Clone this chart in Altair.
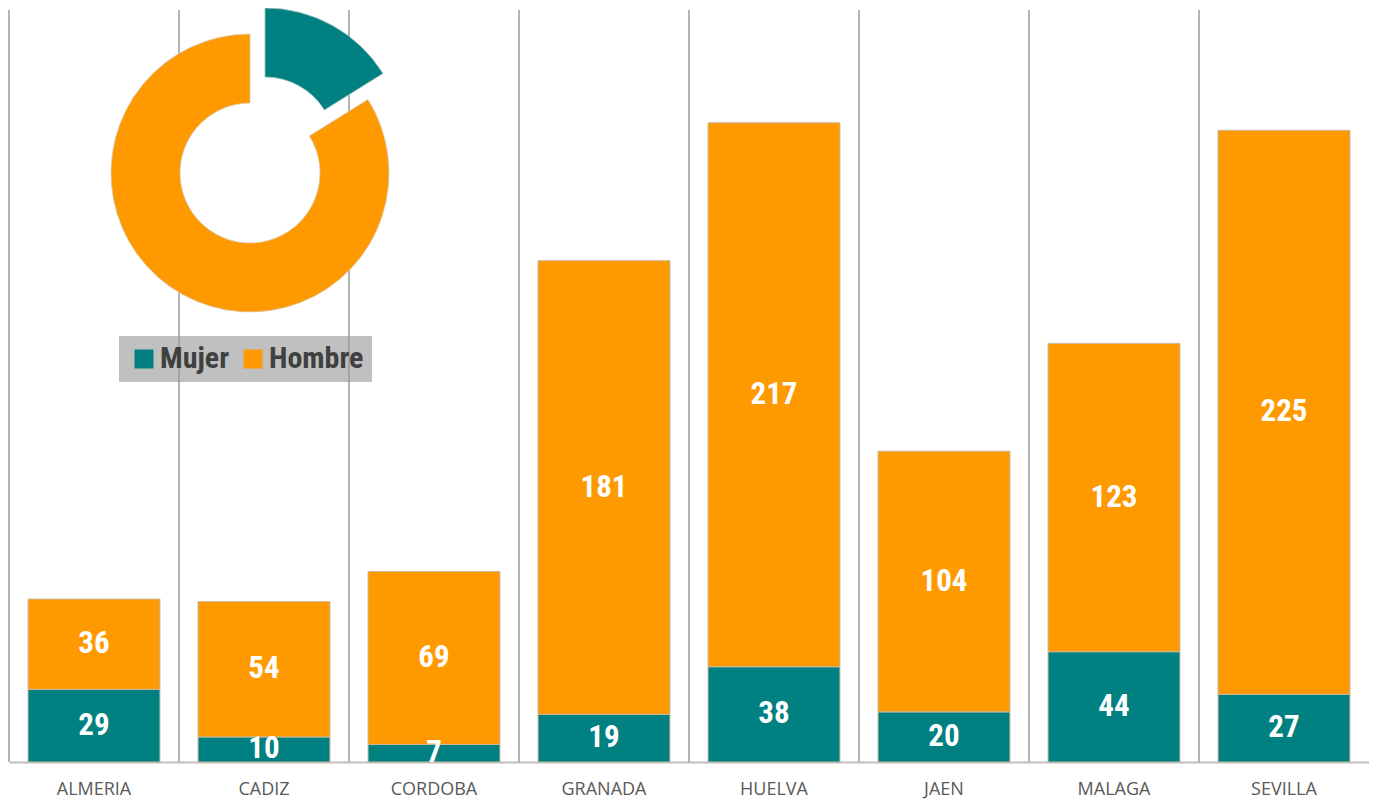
import altair as alt
import pandas as pd

provincias = ["ALMERIA", "CADIZ", "CORDOBA", "GRANADA", "HUELVA", "JAEN", "MALAGA", "SEVILLA"]
mujer = [29, 10, 7, 19, 38, 20, 44, 27]
hombre = [36, 54, 69, 181, 217, 104, 123, 225]
sexos = ["Mujer", "Hombre"]
colores = ["#008080", "#ff9900"]

rows = []
for p, m, h in zip(provincias, mujer, hombre):
    rows.append({"Provincia": p, "Sexo": "Mujer", "orden": 0, "Valor": m})
    rows.append({"Provincia": p, "Sexo": "Hombre", "orden": 1, "Valor": h})
df = pd.DataFrame(rows)

W, H = 1360, 752
NARROW = "Liberation Sans Narrow, Arial Narrow, Roboto Condensed, Arial, sans-serif"

color = alt.Color(
    "Sexo:N",
    scale=alt.Scale(domain=sexos, range=colores),
    sort=sexos,
    legend=alt.Legend(
        title=None,
        orient="none",
        legendX=110,
        legendY=326,
        direction="horizontal",
        symbolType="square",
        symbolSize=361,
        symbolStrokeWidth=0,
        symbolOffset=2,
        labelFont=NARROW,
        labelFontSize=30,
        labelFontWeight="bold",
        labelColor="#404040",
        labelOffset=1,
        columnPadding=6,
        padding=8,
        fillColor="rgba(150,150,150,0.6)",
    ),
)

base = alt.Chart(df)

xscale = alt.Scale(paddingInner=0.224, paddingOuter=0.112)

xband = alt.X(
    "Provincia:N",
    sort=provincias,
    scale=xscale,
    axis=alt.Axis(
        title=None,
        ticks=False,
        domainColor="#bfbfbf",
        domainWidth=2,
        labelAngle=0,
        labelFont="Open Sans",
        labelFontSize=18,
        labelColor="#595959",
        labelPadding=18,
        grid=False,
    ),
)

grid = base.transform_filter(alt.datum.Sexo == "Mujer").mark_rule(
    color="#b4b4b4", strokeWidth=2
).encode(
    x=alt.X(
        "Provincia:N",
        sort=provincias,
        bandPosition=0,
        scale=alt.Scale(type="band", paddingInner=0, paddingOuter=0),
        axis=None,
    ),
    y=alt.value(0),
    y2=alt.value(H),
)

stacked = base.transform_stack(
    stack="Valor",
    groupby=["Provincia"],
    as_=["y0", "y1"],
    sort=[alt.SortField("orden", order="ascending")],
).transform_calculate(mid="(datum.y0 + datum.y1) / 2")

yscale = alt.Scale(domain=[0, 300])

bars = stacked.mark_bar(stroke="#c8b8a0", strokeWidth=1).encode(
    x=xband,
    y=alt.Y("y0:Q", scale=yscale, axis=None),
    y2="y1:Q",
    color=color,
)

labels = stacked.mark_text(
    color="white", font=NARROW, fontSize=31, fontWeight="bold", baseline="middle"
).encode(
    x=alt.X("Provincia:N", sort=provincias, scale=xscale),
    y=alt.Y("mid:Q", scale=yscale, axis=None),
    text="Valor:Q",
)

donut_base = base.transform_aggregate(
    total="sum(Valor)", groupby=["Sexo", "orden"]
)

donut_h = donut_base.mark_arc(innerRadius=70, outerRadius=139, stroke="#d8c8b0", strokeWidth=0.8).encode(
    theta=alt.Theta("total:Q", stack=True),
    order=alt.Order("orden:Q"),
    color=color,
    opacity=alt.condition(alt.datum.Sexo == "Hombre", alt.value(1), alt.value(0)),
    x=alt.value(241),
    y=alt.value(163),
)

donut_m = donut_base.mark_arc(innerRadius=70, outerRadius=139, stroke="#a0c0c0", strokeWidth=0.8).encode(
    theta=alt.Theta("total:Q", stack=True),
    order=alt.Order("orden:Q"),
    color=color,
    opacity=alt.condition(alt.datum.Sexo == "Mujer", alt.value(1), alt.value(0)),
    x=alt.value(256),
    y=alt.value(137),
)

main = alt.layer(bars, labels, donut_h, donut_m)

chart = (
    alt.layer(grid, main)
    .resolve_scale(x="independent")
    .properties(
        width=W,
        height=H,
        autosize=alt.AutoSizeParams(type="none"),
        padding={"left": 1, "top": 2, "right": 0, "bottom": 44},
    )
    .configure_view(stroke=None)
)

chart.save("out.html", embed_options={"renderer": "svg", "actions": False})
